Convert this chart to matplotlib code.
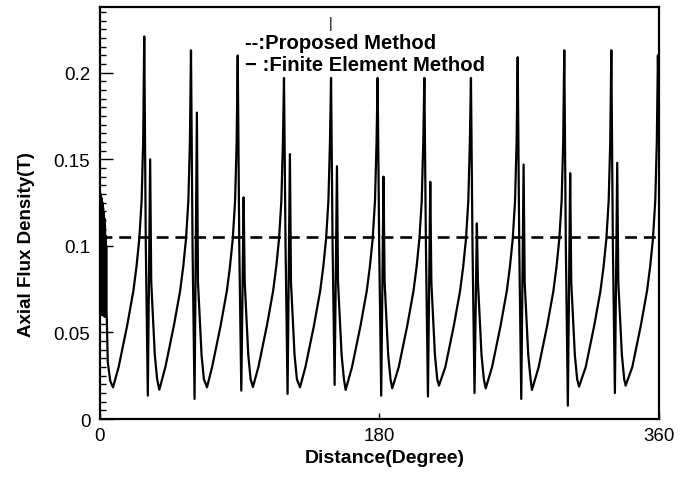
import matplotlib
matplotlib.use("Agg")
from matplotlib import pyplot as plt
from matplotlib.ticker import FixedLocator, MultipleLocator

plt.rcParams['font.family'] = ['Liberation Sans', 'DejaVu Sans']

# --- values (degrees, tesla) ---
# thick oscillating start at 0 deg
start_x = [0, 0.2, 0.4, 0.6, 0.8, 1.0, 1.2, 1.4, 1.6, 1.8, 2.0, 2.2, 2.4, 2.6, 2.8, 3.0,
           3.2, 3.4, 3.6, 3.8, 4.0, 4.2, 4.4, 5.0, 6.6]
start_y = [0.131, 0.062, 0.130, 0.060, 0.128, 0.063, 0.127, 0.061, 0.125, 0.064,
           0.122, 0.060, 0.119, 0.063, 0.116, 0.059, 0.112, 0.062, 0.106, 0.060,
           0.100, 0.061, 0.058, 0.033, 0.022]

# one entry per slot period
min_x = [8.4, 38.2, 68.9, 98.5, 128.8, 158.2, 188.2, 218.3, 248.4, 278.2, 308.5, 338.5]
min_y = [0.0183, 0.0169, 0.0183, 0.0185, 0.0183, 0.0168, 0.0177, 0.0193, 0.0177, 0.0168, 0.0187, 0.0193]
spike_x = [28.5, 58.6, 88.7, 118.5, 148.8, 178.8, 208.9, 238.9, 269.0, 299.0, 329.3, 359.3]
peak_y = [0.221, 0.213, 0.210, 0.197, 0.197, 0.197, 0.197, 0.197, 0.209, 0.213, 0.213, 0.210]
dip_y = [0.0135, 0.0116, 0.0164, 0.0145, 0.0197, 0.0135, 0.0130, 0.0150, 0.0116, 0.0077, 0.0150]
second_y = [0.150, 0.177, 0.128, 0.153, 0.146, 0.140, 0.137, 0.113, 0.147, 0.142, 0.148]

# shape of the rise before a spike and the fall after it (offset from spike, value)
rise_dx = [-16.5, -11.0, -7.0, -5.0, -3.2, -1.7, -0.7]
rise_y = [0.030, 0.054, 0.074, 0.088, 0.104, 0.126, 0.160]
after_dx = [1.0, 2.3, 3.8]
after_mid = 0.10
fall_dx = [4.5, 6.8, 8.3]
fall_y = [0.079, 0.037, 0.023]
end_y = 0.17

proposed_y = 0.105

# build the FEM curve
fem_x = list(start_x)
fem_y = list(start_y)
for k in range(len(spike_x)):
    fem_x.append(min_x[k])
    fem_y.append(min_y[k])
    for dx, v in zip(rise_dx, rise_y):
        fem_x.append(spike_x[k] + dx)
        fem_y.append(v)
    fem_x.append(spike_x[k])
    fem_y.append(peak_y[k])
    if k < len(dip_y):
        fem_x += [spike_x[k] + d for d in after_dx]
        fem_y += [after_mid, dip_y[k], second_y[k]]
        for dx, v in zip(fall_dx, fall_y):
            fem_x.append(spike_x[k] + dx)
            fem_y.append(v)
    else:
        fem_x.append(360)
        fem_y.append(end_y)

fig = plt.figure(figsize=(6.92, 4.81), dpi=100)
ax = fig.add_axes([0.1445, 0.1268, 0.8078, 0.8566])

ax.plot(fem_x, fem_y, color='black', linewidth=1.6)
ax.plot([0, 360], [proposed_y, proposed_y], color='black', linewidth=1.9,
        dashes=(4.5, 2.6))

ax.set_xlim(0, 360)
ax.set_ylim(0, 0.238)

ax.xaxis.set_major_locator(FixedLocator([0, 180, 360]))
ax.set_xticklabels(['0', '180', '360'])
ax.yaxis.set_major_locator(FixedLocator([0, 0.05, 0.1, 0.15, 0.2]))
ax.set_yticklabels(['0', '0.05', '0.1', '0.15', '0.2'])
ax.yaxis.set_minor_locator(MultipleLocator(0.005))

ax.tick_params(axis='both', which='both', direction='in', labelsize=13.5)
ax.tick_params(axis='y', which='major', length=9, width=1, pad=7)
ax.tick_params(axis='y', which='minor', length=4.5, width=1)
ax.tick_params(axis='x', which='major', length=4.5, width=1, pad=6)
for s in ax.spines.values():
    s.set_linewidth(1.6)

ax.set_xlabel('Distance(Degree)', fontsize=14, fontweight='bold')
ax.xaxis.set_label_coords(0.51, -0.073)
ax.xaxis.label.set_va('top')
ax.set_ylabel('Axial Flux Density(T)', fontsize=13.5, fontweight='bold')
ax.yaxis.set_label_coords(-0.116, 0.425)

ax.text(0.2594, 0.913, '--:Proposed Method', transform=ax.transAxes,
        fontsize=14.6, fontweight='bold', va='center', ha='left')
ax.text(0.2594, 0.860, '\u2212 :Finite Element Method', transform=ax.transAxes,
        fontsize=14.6, fontweight='bold', va='center', ha='left')
ax.text(0.413, 0.962, '|', transform=ax.transAxes, fontsize=10,
        va='center', ha='center')

fig.savefig('out.png', dpi=100)
